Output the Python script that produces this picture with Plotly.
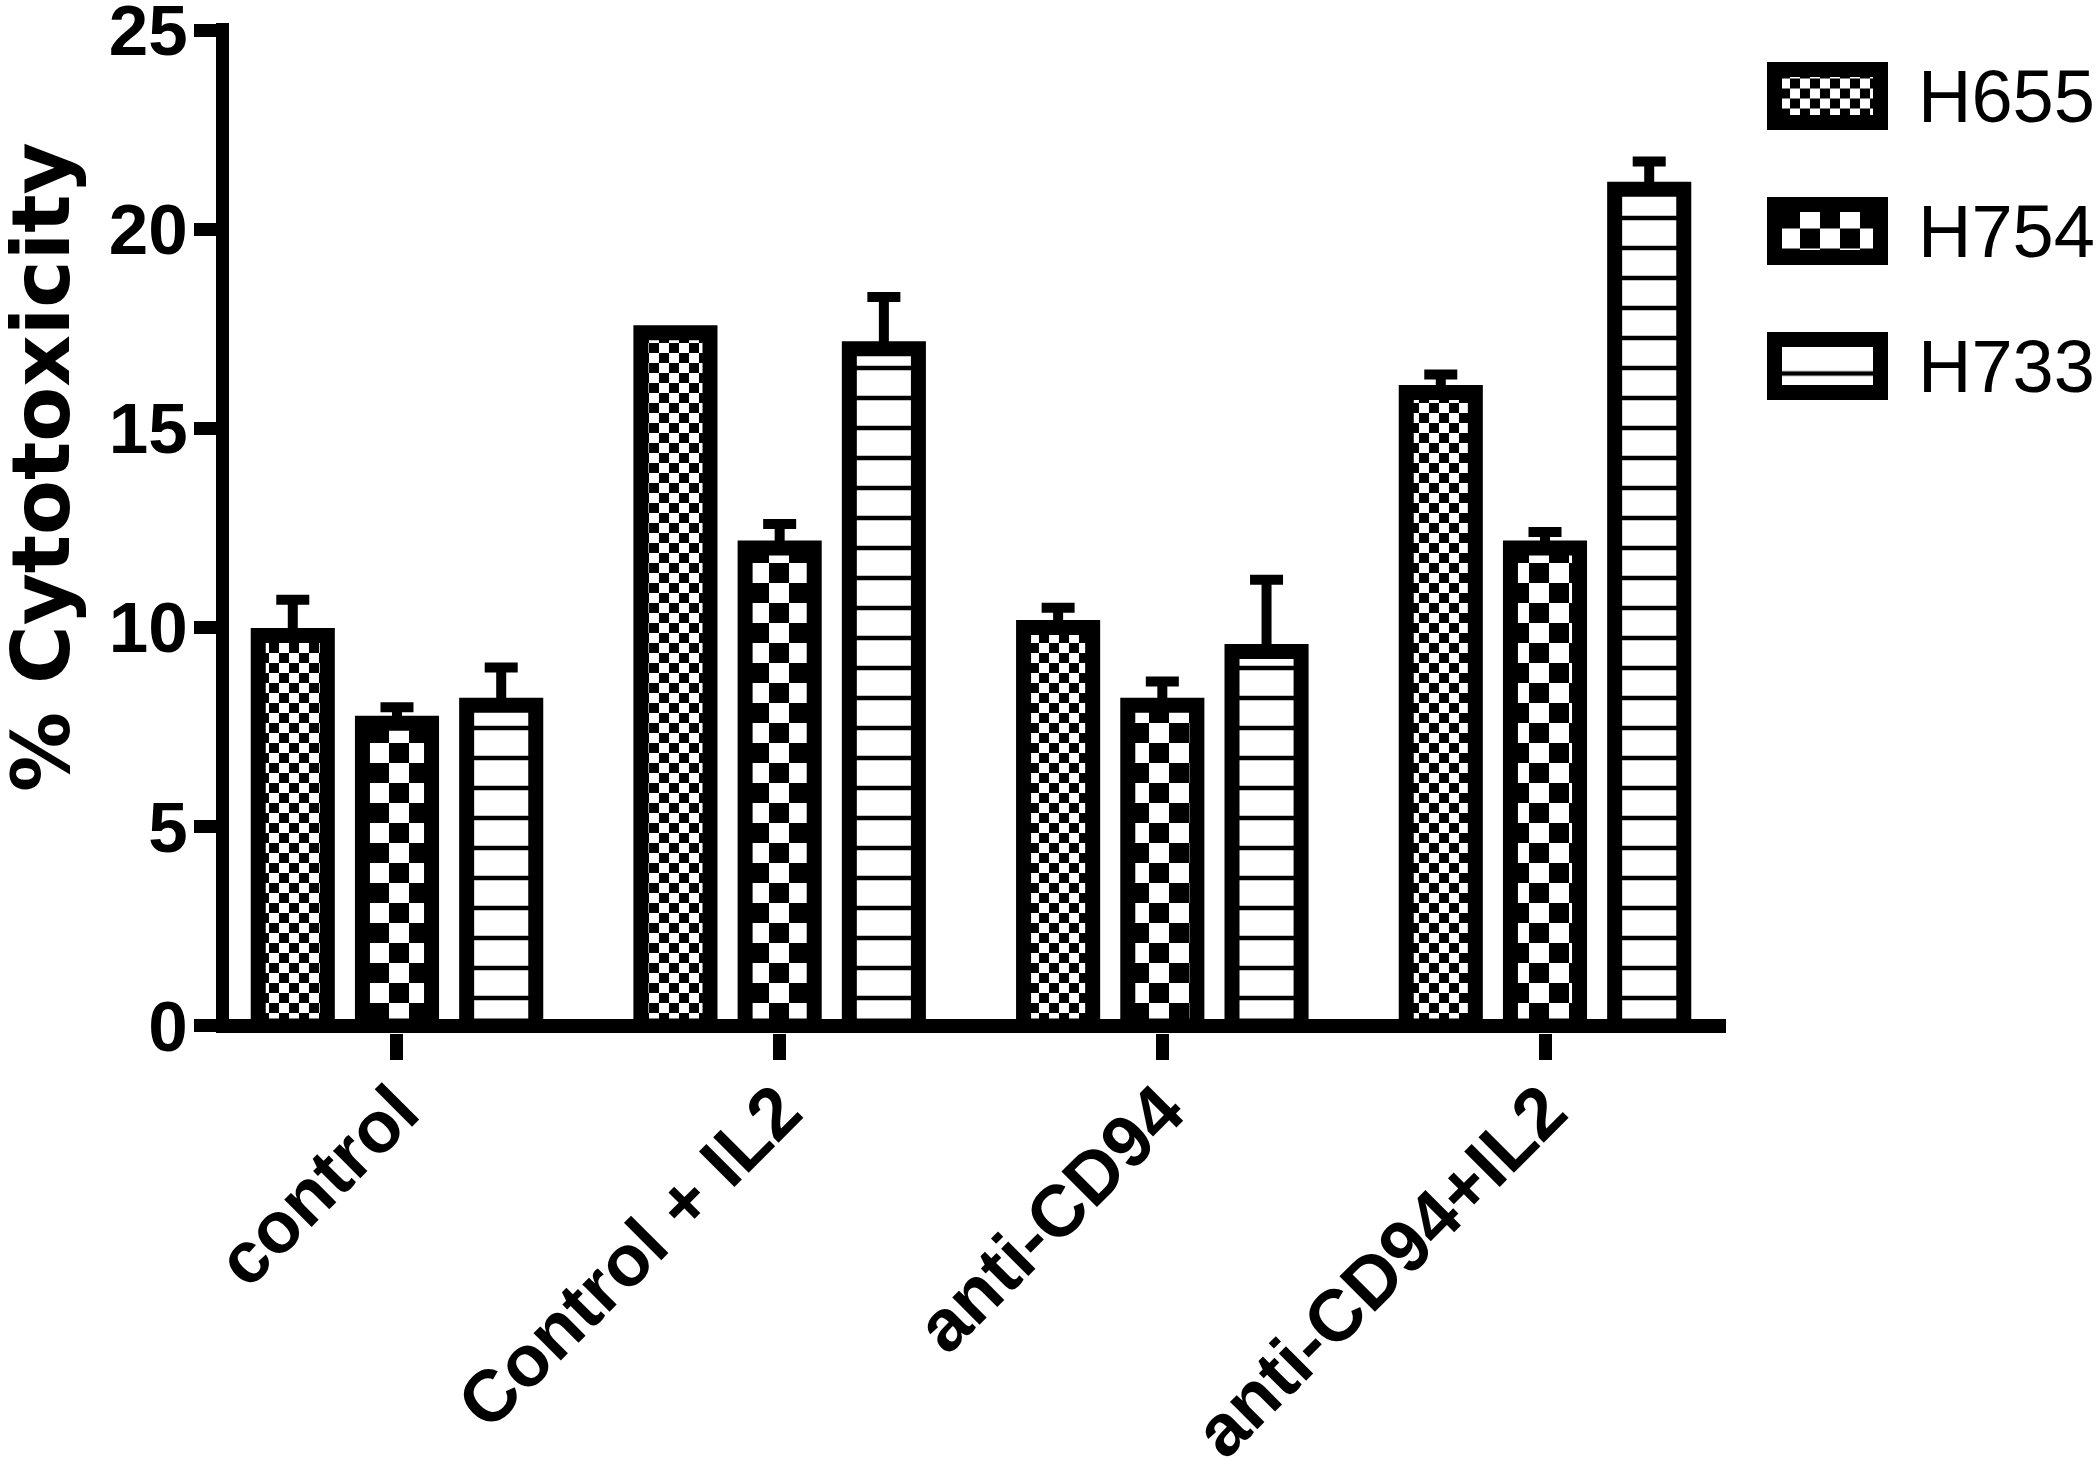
import plotly.graph_objects as go

# ---------------- data ----------------
categories = ["control", "Control + IL2", "anti-CD94", "anti-CD94+IL2"]
series_names = ["H655", "H754", "H733"]

h655_mean = [9.8, 17.4, 10.0, 15.9]
h655_err = [0.9, 0.0, 0.5, 0.45]
h754_mean = [7.6, 12.0, 8.05, 12.0]
h754_err = [0.4, 0.6, 0.6, 0.4]
h733_mean = [8.05, 17.0, 9.4, 21.0]
h733_err = [0.95, 1.3, 1.8, 0.7]

y_tick_vals = [0, 5, 10, 15, 20, 25]
legend_swatch_len = [1, 1, 1]

# ---------------- styles ----------------
W, H = 2100, 1473
BORDER = 15
ARIAL = "Liberation Sans"
WIDE = "DejaVu Sans"


def checker(cell):
    c = cell
    return (f"M0,0H{c}V{c}H0Z"
            f"M{c},{c}H{2*c}V{2*c}H{c}Z")


patterns = {
    "H655": dict(path=checker(10), size=20, solidity=0.5),
    "H754": dict(path=checker(20), size=40, solidity=0.5),
    "H733": dict(shape="-", size=30, solidity=0.15),
}


def pat(name):
    p = dict(fgcolor="black", bgcolor="white", fgopacity=1, fillmode="replace")
    p.update(patterns[name])
    return p


means = [h655_mean, h754_mean, h733_mean]
errs = [h655_err, h754_err, h733_err]

fig = go.Figure()
for name, m, e in zip(series_names, means, errs):
    fig.add_trace(go.Bar(
        x=categories, y=m, name=name, showlegend=False,
        marker=dict(color="white", line=dict(color="black", width=BORDER),
                    pattern=pat(name)),
        error_y=dict(type="data", array=e, arrayminus=[0] * len(e), symmetric=False,
                     color="black", thickness=10, width=16.5),
    ))

# legend drawn as a small subplot of swatches
for name, v in zip(series_names, legend_swatch_len):
    fig.add_trace(go.Bar(
        x=[v], y=[name], orientation="h", xaxis="x2", yaxis="y2",
        showlegend=False, cliponaxis=False, width=[0.3926], offset=[-0.1963],
        marker=dict(color="white", line=dict(color="black", width=BORDER),
                    pattern=pat(name)),
        hoverinfo="skip",
    ))

ml, mr, mt, mb = 229, 205, 23, 440
pw = W - ml - mr
ph = H - mt - mb


def px(x):
    return (x - ml) / pw


def py(y):
    return (H - mb - y) / ph


# legend swatch geometry (page px): path 1774.5..1880.5, subplot 1760..1895
lg_l, lg_r, sw_l, sw_r = 1760, 1895, 1774.5, 1880.5
sw_scale = sw_r - sw_l

fig.update_layout(
    width=W, height=H,
    margin=dict(l=ml, r=mr, t=mt, b=mb, pad=0, autoexpand=False),
    paper_bgcolor="white", plot_bgcolor="white",
    barmode="group", bargap=0.183, bargroupgap=0.337,
    showlegend=False,
    xaxis=dict(
        domain=[0, px(1726)], automargin=False,
        type="category", range=[-0.439, 3.473],
        showline=False, showgrid=False, zeroline=False,
        ticks="outside", ticklen=26, tickwidth=13, tickcolor="black",
        tickangle=-45, ticklabeloverflow="allow", ticklabelstandoff=-21,
        tickfont=dict(family=ARIAL, size=73, color="black", weight="bold"),
    ),
    yaxis=dict(
        range=[-0.176, 25.176], automargin=False,
        tickvals=y_tick_vals, ticklabeloverflow="allow", ticklabelstandoff=-8,
        showline=True, linewidth=13, linecolor="black",
        showgrid=False,
        zeroline=True, zerolinewidth=14, zerolinecolor="black",
        ticks="outside", ticklen=22, tickwidth=13, tickcolor="black",
        tickfont=dict(family=ARIAL, size=71, color="black", weight="bold"),
    ),
    xaxis2=dict(
        domain=[px(lg_l), 1], anchor="y2",
        range=[-(sw_l - lg_l) / sw_scale, 1 + (lg_r - sw_r) / sw_scale],
        visible=False, automargin=False,
    ),
    yaxis2=dict(
        domain=[py(433.5), py(28.5)], anchor="x2",
        type="category", range=[2.5, -0.5], side="right", automargin=False,
        showline=False, showgrid=False, zeroline=False, ticks="",
        ticklabelstandoff=22, ticklabeloverflow="allow",
        tickfont=dict(family=ARIAL, size=74, color="black"),
    ),
    annotations=[dict(
        text="% Cytotoxicity", textangle=-90, showarrow=False,
        xref="paper", yref="paper",
        x=px(42), y=py(467),
        xanchor="center", yanchor="middle",
        font=dict(family=WIDE, size=80, color="black", weight="bold"),
    )],
)

fig.write_html("out.html", post_script="document.body.style.margin='0px';",
               config={"displayModeBar": False})
